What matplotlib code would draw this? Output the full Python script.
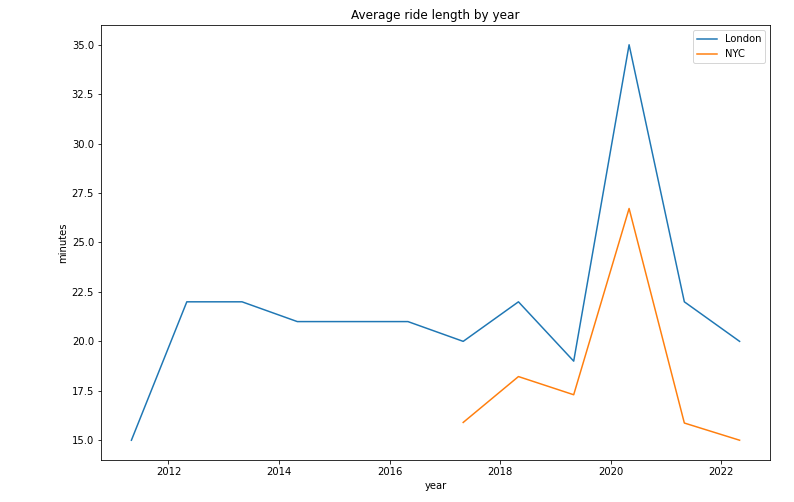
import matplotlib
matplotlib.use("Agg")
import matplotlib.pyplot as plt
import pandas as pd

london_dates = pd.to_datetime([f"{y}-05-01" for y in range(2011, 2023)])
london_minutes = [15, 22, 22, 21, 21, 21, 20, 22, 19, 35, 22, 20]

nyc_dates = pd.to_datetime([f"{y}-05-01" for y in range(2017, 2023)])
nyc_minutes = [15.9, 18.22, 17.3, 26.72, 15.87, 15.0]

fig = plt.figure(figsize=(794/72, 502/72), dpi=72)
ax = fig.add_axes([101/794, 1-460/502, (770-101)/794, (460-25)/502])
ax.plot(london_dates, london_minutes, label="London", color="#1f77b4")
ax.plot(nyc_dates, nyc_minutes, label="NYC", color="#ff7f0e")
ax.set_title("Average ride length by year")
ax.set_xlabel("year")
ax.set_ylabel("minutes")
ax.legend(loc="upper right")
fig.savefig("out.png", dpi=72)
